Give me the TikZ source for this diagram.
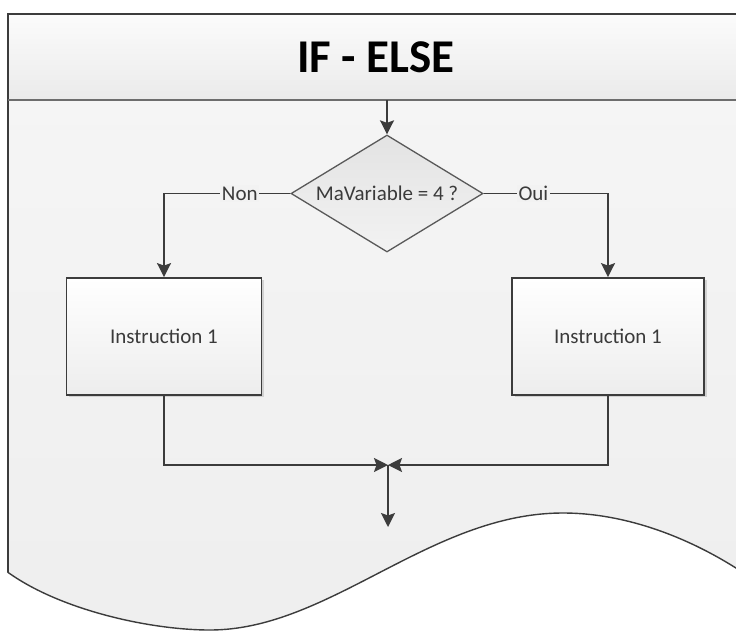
\documentclass[tikz,border=0pt]{standalone}
\usepackage{fontspec}
\setmainfont{Carlito}
\usetikzlibrary{shapes.geometric,arrows.meta,shadows}
\definecolor{lineC}{HTML}{3C3C3C}
\definecolor{bodyC}{HTML}{F2F2F2}
\definecolor{txtC}{HTML}{3A3A3A}
\begin{document}
\begin{tikzpicture}[x=1pt,y=-1pt,
  arr/.style={draw=lineC,line width=1.8pt,-{Stealth[length=14pt,width=14pt,inset=2.5pt]}},
  title/.style={font=\fontsize{47}{50}\selectfont\bfseries,text=black,inner sep=0pt},
  decision/.style={diamond,aspect=1.64,draw=lineC!85,line width=1.3pt,top color=black!11,bottom color=black!5,
    minimum width=192pt,minimum height=117pt,inner sep=0pt,text=txtC,font=\fontsize{21}{24}\selectfont},
  procbox/.style={rectangle,draw=lineC,line width=1.8pt,top color=white,bottom color=black!7,
    minimum height=117pt,inner sep=0pt,text=txtC,font=\fontsize{21}{24}\selectfont,
    drop shadow={shadow xshift=2.5pt,shadow yshift=-2pt,fill=black!30,opacity=0.5}},
  lbl/.style={fill=bodyC,inner sep=1.5pt,text=txtC,font=\fontsize{21}{24}\selectfont}]
\clip (0,0) rectangle (736,630);
\fill[white] (0,0) rectangle (736,630);
% body of the document shape
\path[top color=black!4,bottom color=black!6.5] (7.5,100) -- (7.5,572)
  .. controls (60,610) and (150,630) .. (210,630)
  .. controls (330,630) and (430,513) .. (563,513)
  .. controls (640,513) and (720,550) .. (780,600) -- (780,100) -- cycle;
% header band
\path[top color=black!1.5,bottom color=black!8] (7.5,14) rectangle (780,100);
% outline
\draw[lineC,line width=2pt] (780,14) -- (7.5,14) -- (7.5,572);
\draw[lineC!75,line width=2pt] (7.5,100) -- (780,100);
\draw[lineC,line width=1.4pt] (7.5,572)
  .. controls (60,610) and (150,630) .. (210,630)
  .. controls (330,630) and (430,513) .. (563,513)
  .. controls (640,513) and (720,550) .. (780,600);
% nodes
\node[title] (title) at (376,57) {IF - ELSE};
\node[decision] (dec) at (387,193.5) {MaVariable = 4 ?};
\node[procbox,minimum width=195pt] (p1) at (164,336.5) {Instruction 1};
\node[procbox,minimum width=192pt] (p2) at (608,336.5) {Instruction 1};
\coordinate (top) at (387,100);
\coordinate (m) at (388,465);
\coordinate (out) at (388,527);
% connectors
\draw[arr] (top) -- (dec.north);
\draw[arr] (dec.west) -| node[lbl,pos=0.2] {Non} (p1.north);
\draw[arr] (dec.east) -| node[lbl,pos=0.2] {Oui} (p2.north);
\draw[arr] (p1.south) |- (m);
\draw[arr] (p2.south) |- (m);
\draw[arr] (m) -- (out);
\end{tikzpicture}
\end{document}
